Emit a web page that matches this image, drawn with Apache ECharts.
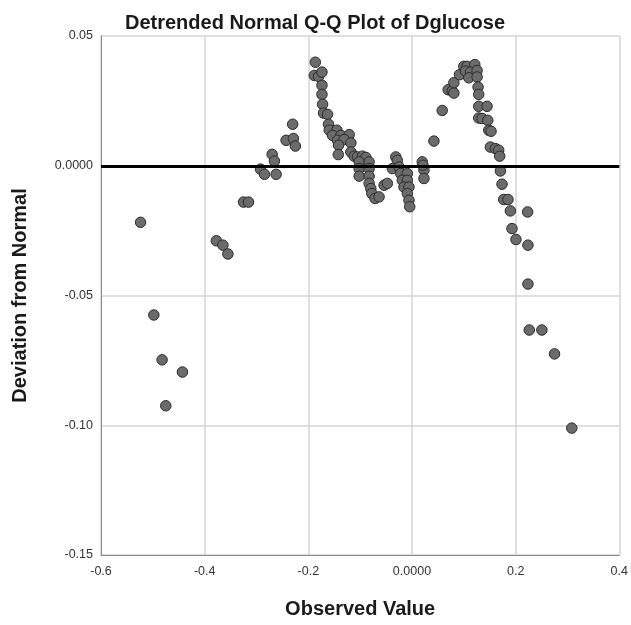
<!DOCTYPE html>
<html lang="en">
<head>
  <meta charset="UTF-8">
  <title>Detrended Normal Q-Q Plot of Dglucose</title>
  <script src="https://cdn.jsdelivr.net/npm/echarts@6/dist/echarts.min.js"></script>
  <style>
    body { margin: 0; background: #fff; }
  </style>
</head>
<body>
  <div id="main" style="width: 631px;height:625px;"></div>

  <script type="text/javascript">
    const observed = [
      -0.5237, -0.4981, -0.4821, -0.4750, -0.4429, -0.3775, -0.3648, -0.3552, -0.3250, -0.3154,
      -0.2923, -0.2846, -0.2698, -0.2654, -0.2621, -0.2429, -0.2302, -0.2288, -0.2250,
      -0.1865, -0.1885, -0.1802, -0.1737, -0.1737, -0.1737, -0.1725, -0.1706, -0.1629, -0.1610,
      -0.1596, -0.1448, -0.1533, -0.1371, -0.1212, -0.1437, -0.1308, -0.1179, -0.1417, -0.1423,
      -0.1179, -0.1115, -0.1052, -0.0956, -0.0890, -0.1019, -0.0827, -0.1019, -0.0827, -0.1019,
      -0.0827, -0.0827, -0.0794, -0.0775, -0.0712, -0.0635, -0.0538, -0.0475, -0.0313, -0.0283,
      -0.0379, -0.0250, -0.0217, -0.0090, -0.0187, -0.0090, -0.0154, -0.0058, -0.0090, -0.0058,
      -0.0044, 0.0198, 0.0231, 0.0231, 0.0212,
      0.0423, 0.0583, 0.0698, 0.0775, 0.0808, 0.0808, 0.0917, 0.1000, 0.1063, 0.1212,
      0.1033, 0.1129, 0.1256, 0.1096, 0.1256, 0.1275, 0.1288, 0.1288, 0.1448, 0.1288,
      0.1352, 0.1462, 0.1481, 0.1525, 0.1513, 0.1610, 0.1673, 0.1692, 0.1706, 0.1737,
      0.1769, 0.1852, 0.1898, 0.1929, 0.2006, 0.2231, 0.2237, 0.2237, 0.2263, 0.2506,
      0.2750, 0.3083
    ];
    const deviation = [
      -0.0218, -0.0575, -0.0748, -0.0925, -0.0795, -0.0289, -0.0306, -0.0340, -0.0140, -0.0140,
      -0.0013, -0.0033, 0.0044, 0.0018, -0.0033, 0.0098, 0.0160, 0.0105, 0.0076,
      0.0399, 0.0348, 0.0344, 0.0361, 0.0310, 0.0275, 0.0237, 0.0203, 0.0198, 0.0160,
      0.0137, 0.0137, 0.0117, 0.0117, 0.0120, 0.0098, 0.0101, 0.0088, 0.0079, 0.0043,
      0.0053, 0.0037, 0.0034, 0.0037, 0.0032, 0.0015, 0.0015, -0.0011, -0.0011, -0.0040,
      -0.0040, -0.0068, -0.0088, -0.0107, -0.0126, -0.0120, -0.0075, -0.0068, 0.0034, 0.0021,
      -0.0011, -0.0005, -0.0030, -0.0030, -0.0056, -0.0056, -0.0082, -0.0082, -0.0107, -0.0133,
      -0.0158, 0.0015, -0.0017, -0.0049, 0.0002,
      0.0095, 0.0213, 0.0293, 0.0288, 0.0280, 0.0320, 0.0351, 0.0383, 0.0383, 0.0390,
      0.0365, 0.0361, 0.0367, 0.0339, 0.0342, 0.0303, 0.0275, 0.0229, 0.0229, 0.0184,
      0.0182, 0.0175, 0.0137, 0.0133, 0.0072, 0.0066, 0.0060, 0.0037, -0.0020, -0.0071,
      -0.0130, -0.0130, -0.0174, -0.0242, -0.0284, -0.0178, -0.0306, -0.0456, -0.0633, -0.0633,
      -0.0725, -0.1011
    ];
    const xTickLabels = { '-0.6': '-0.6', '-0.4': '-0.4', '-0.2': '-0.2', '0': '0.0000', '0.2': '0.2', '0.4': '0.4' };
    const yTickLabels = { '0.05': '0.05', '0': '0.0000', '-0.05': '-0.05', '-0.1': '-0.10', '-0.15': '-0.15' };

    const points = observed.map((x, i) => [x, deviation[i]]);
    const fontFamily = '"Liberation Sans", Arial, sans-serif';

    let myChart = echarts.init(document.getElementById('main'));

    let options = {
      animation: false,
      title: {
        text: 'Detrended Normal Q-Q Plot of Dglucose',
        left: 310,
        textAlign: 'center',
        top: 8,
        textStyle: { fontFamily: fontFamily, fontSize: 20, fontWeight: 'bold', color: '#1a1a1a' }
      },
      grid: { left: 101, right: 10, top: 36, bottom: 70 },
      xAxis: {
        type: 'value',
        min: -0.6,
        max: 0.4,
        interval: 0.2,
        name: 'Observed Value',
        nameLocation: 'middle',
        nameGap: 44,
        nameTextStyle: { fontFamily: fontFamily, fontSize: 20, fontWeight: 'bold', color: '#1a1a1a' },
        axisLine: { onZero: false, lineStyle: { color: '#8c8c8c', width: 1 } },
        axisTick: { show: false },
        axisLabel: {
          fontFamily: fontFamily, fontSize: 12.5, color: '#333', margin: 10,
          formatter: v => xTickLabels[String(Math.round(v * 10) / 10)] || ''
        },
        splitLine: { show: true, lineStyle: { color: '#d4d4d4', width: 1.5 } }
      },
      yAxis: {
        type: 'value',
        min: -0.15,
        max: 0.05,
        interval: 0.05,
        name: 'Deviation from Normal',
        nameLocation: 'middle',
        nameGap: 71,
        nameTextStyle: { fontFamily: fontFamily, fontSize: 20, fontWeight: 'bold', color: '#1a1a1a' },
        axisLine: { show: true, onZero: false, lineStyle: { color: '#8c8c8c', width: 1 } },
        axisTick: { show: false },
        axisLabel: {
          fontFamily: fontFamily, fontSize: 12.5, color: '#333', margin: 8,
          formatter: v => yTickLabels[String(Math.round(v * 100) / 100)] || ''
        },
        splitLine: { show: true, lineStyle: { color: '#d4d4d4', width: 1.5 } }
      },
      series: [{
        name: 'Dglucose',
        type: 'scatter',
        symbol: 'circle',
        symbolSize: 10.5,
        itemStyle: { color: '#6b6b6b', borderColor: '#2b2b2b', borderWidth: 1, opacity: 1 },
        data: points,
        markLine: {
          silent: true,
          symbol: 'none',
          label: { show: false },
          lineStyle: { color: '#000', width: 3, type: 'solid' },
          data: [{ yAxis: 0 }]
        },
        z: 3
      }]
    };

    myChart.setOption(options);
  </script>
</body>
</html>
